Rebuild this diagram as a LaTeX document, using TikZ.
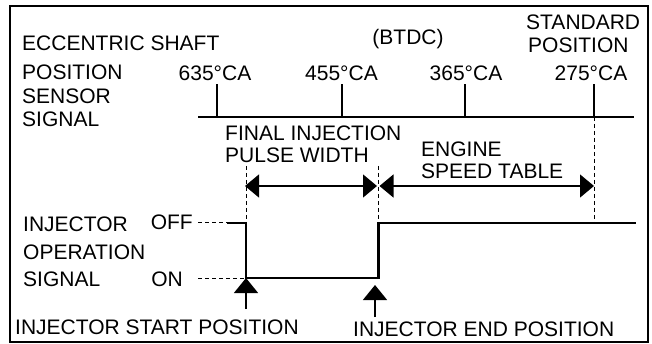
\documentclass[tikz,border=0pt]{standalone}
\usepackage{fontspec}
\setmainfont{Liberation Sans}
\usetikzlibrary{arrows.meta}
\tikzset{
  txt/.style={font=\fontsize{21}{25}\selectfont, inner sep=0pt, anchor=base west},
  txtc/.style={font=\fontsize{21}{25}\selectfont, inner sep=0pt, anchor=base},
  thick line/.style={line width=2.6pt},
  tickline/.style={line width=2.3pt},
  dimline/.style={line width=1.3pt, {Triangle[length=14pt,width=23pt]}-{Triangle[length=14pt,width=23pt]}},
  uparrow/.style={line width=1.3pt, -{Triangle[length=15pt,width=24pt]}},
  dashline/.style={line width=1pt, dash pattern=on 4pt off 3pt},
}
\begin{document}
\begin{tikzpicture}[x=1pt,y=-1pt]
\useasboundingbox (0,0) rectangle (652,344);
\draw[line width=1.3pt] (10,6) rectangle (648,342);

% left labels
\node[txt] (l1) at (22,50.5) {ECCENTRIC SHAFT};
\node[txt] (l2) at (22,80) {POSITION};
\node[txt] (l3) at (22,103.5) {SENSOR};
\node[txt] (l4) at (22,126.5) {SIGNAL};

\node[txtc] (btdc) at (408,44.5) {(BTDC)};
\node[txt] (std1) at (526,29.5) {STANDARD};
\node[txt] (std2) at (528,52.5) {POSITION};

\node[txtc] (c635) at (215,81) {635°CA};
\node[txtc] (c455) at (341.5,81) {455°CA};
\node[txtc] (c365) at (466,81) {365°CA};
\node[txtc] (c275) at (591,81) {275°CA};

% sensor line and ticks
\coordinate (s0) at (198,117);
\coordinate (s1) at (634,117);
\draw[thick line] (s0) -- (s1);
\coordinate (t1a) at (217,117); \coordinate (t1b) at (217,84);
\coordinate (t2a) at (342,117); \coordinate (t2b) at (342,84);
\coordinate (t3a) at (465,117); \coordinate (t3b) at (465,84);
\coordinate (t4a) at (594,117); \coordinate (t4b) at (594,84);
\draw[tickline] (t1a) -- (t1b);
\draw[tickline] (t2a) -- (t2b);
\draw[tickline] (t3a) -- (t3b);
\draw[tickline] (t4a) -- (t4b);

% middle labels
\node[txt] (f1) at (225,140.5) {FINAL INJECTION};
\node[txt] (f2) at (225,162.5) {PULSE WIDTH};
\node[txt] (e1) at (421,157) {ENGINE};
\node[txt] (e2) at (421,179) {SPEED TABLE};

% signal
\coordinate (p0) at (227,223);
\coordinate (p1) at (246,223);
\coordinate (p2) at (246,278);
\coordinate (p3) at (378.5,278);
\coordinate (p4) at (378.5,223);
\coordinate (p5) at (636,223);
\draw[thick line, line join=miter] (p0) -- (p1) -- (p2) -- (p3) -- (p4) -- (p5);

% dashed guides
\coordinate (d1t) at (246,166);
\coordinate (d2t) at (378,166);
\coordinate (d2b) at (378,223);
\coordinate (d3b) at (594,223);
\draw[dashline] (d1t) -- (p2);
\draw[dashline] (d2t) -- (d2b);
\draw[dashline] (t4a) -- (d3b);

% dimension arrows
\coordinate (a1) at (245,186);
\coordinate (a2) at (377,186);
\coordinate (a3) at (379.5,186);
\coordinate (a4) at (594,186);
\draw[dimline] (a1) -- (a2);
\draw[dimline] (a3) -- (a4);

% injector labels
\node[txt] (i1) at (23,232) {INJECTOR};
\node[txt] (i2) at (23,259) {OPERATION};
\node[txt] (i3) at (23,286) {SIGNAL};
\node[txt, anchor=base east] (off) at (193,230) {OFF};
\node[txt, anchor=base east] (on) at (183,286.5) {ON};
\coordinate (off0) at (198,223);
\coordinate (on0) at (198,278);
\draw[dashline] (off0) -- (p0);
\draw[dashline] (on0) -- (p2);

% position arrows
\coordinate (u1) at (246,309);
\coordinate (u2) at (375,317);
\coordinate (u2t) at (375,285);
\draw[uparrow] (u1) -- (p2);
\draw[uparrow] (u2) -- (u2t);

\node[txt] (isp) at (15,334) {INJECTOR START POSITION};
\node[txt] (iep) at (353,336) {INJECTOR END POSITION};
\end{tikzpicture}
\end{document}
